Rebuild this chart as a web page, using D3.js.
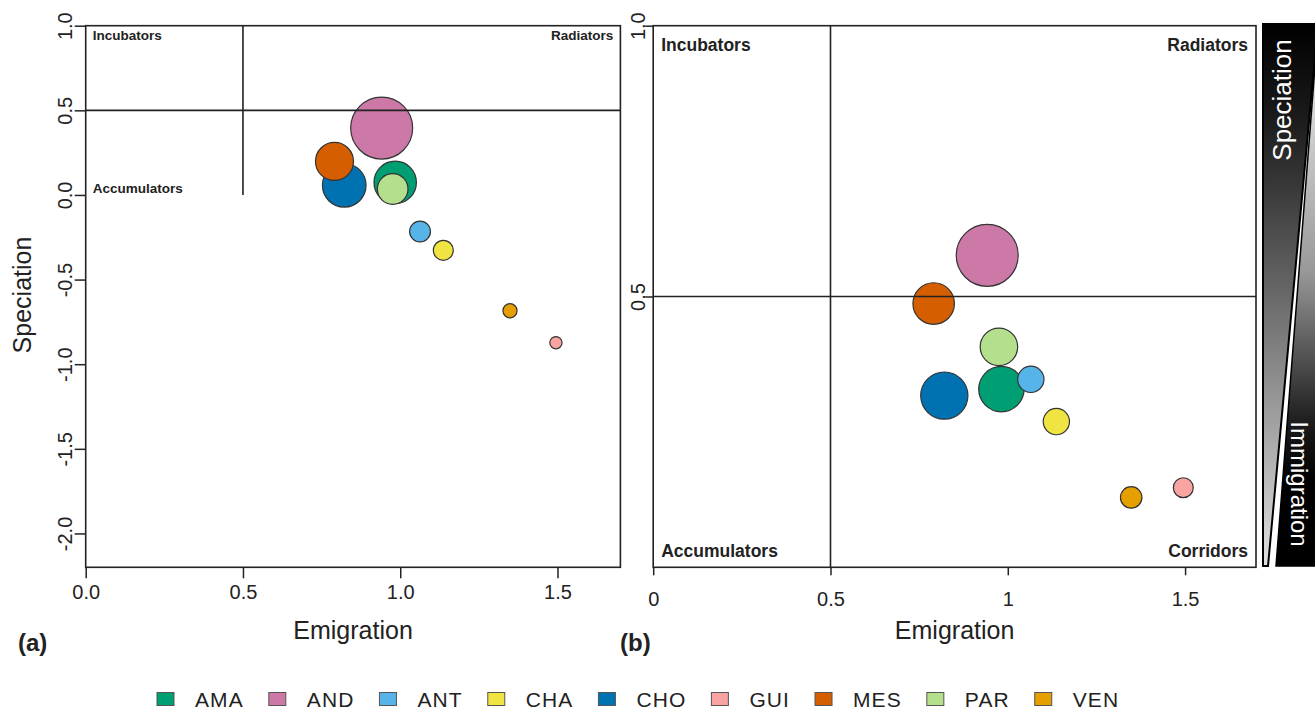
<!DOCTYPE html>
<html>
<head>
<meta charset="utf-8">
<script src="https://cdn.jsdelivr.net/npm/d3@7"></script>
<style>
  html, body { margin: 0; padding: 0; background: #fff; }
  svg { display: block; font-family: "Liberation Sans", Arial, Helvetica, sans-serif; }
</style>
</head>
<body>
<svg id="chart" width="1315" height="710"></svg>
<script>
// Bioregions and their colours
const regions = ["AMA", "AND", "ANT", "CHA", "CHO", "GUI", "MES", "PAR", "VEN"];
const regionColors = ["#009E73", "#CC79A7", "#56B4E9", "#F0E442", "#0072B2", "#F9A3A3", "#D55E00", "#B4DF8D", "#E69F00"];

// Panel (a): emigration vs speciation, bubble size = relative magnitude
const emigrationA = [0.984, 0.941, 1.063, 1.137, 0.822, 1.495, 0.791, 0.976, 1.349];
const speciationA = [0.074, 0.395, -0.216, -0.327, 0.057, -0.873, 0.198, 0.035, -0.684];
const sizeA = [46.8, 100, 11.3, 10.4, 49.5, 3.9, 37.6, 24.4, 5.2];

// Panel (b): emigration vs relative speciation
const emigrationB = [0.982, 0.942, 1.065, 1.137, 0.821, 1.495, 0.791, 0.975, 1.348];
const speciationB = [0.329, 0.576, 0.347, 0.269, 0.317, 0.147, 0.487, 0.407, 0.129];
const sizeB = [53.6, 100, 18, 18, 58, 10.3, 44.9, 36.6, 12];

// Axis ticks and labels
const xTicks = [0, 0.5, 1, 1.5];
const xTickLabelsA = ["0.0", "0.5", "1.0", "1.5"];
const xTickLabelsB = ["0", "0.5", "1", "1.5"];
const yTicksA = [-2, -1.5, -1, -0.5, 0, 0.5, 1];
const yTickLabelsA = ["-2.0", "-1.5", "-1.0", "-0.5", "0.0", "0.5", "1.0"];
const yTicksB = [0.5, 1];
const yTickLabelsB = ["0.5", "1.0"];

const svg = d3.select("#chart");
const ink = "#222";

const rScale = d3.scaleSqrt().domain([0, 100]).range([0, 31]);

function rows(xs, ys, ss) {
  return regions.map((r, i) => ({ region: r, color: regionColors[i], x: xs[i], y: ys[i], s: ss[i] }))
    .sort((a, b) => b.s - a.s);
}

function drawPanel(opt) {
  const g = svg.append("g");
  const x = d3.scaleLinear().domain(opt.xDomain).range(opt.xRange);
  const y = d3.scaleLinear().domain(opt.yDomain).range(opt.yRange);

  // bubbles
  g.append("g").selectAll("circle")
    .data(rows(opt.xs, opt.ys, opt.ss))
    .join("circle")
    .attr("cx", d => x(d.x))
    .attr("cy", d => y(d.y))
    .attr("r", d => rScale(d.s))
    .attr("fill", d => d.color)
    .attr("stroke", "#333")
    .attr("stroke-width", 1.2);

  // quadrant dividers
  g.append("line")
    .attr("x1", x(opt.xDomain[0])).attr("x2", x(opt.xDomain[1]))
    .attr("y1", y(0.5)).attr("y2", y(0.5))
    .attr("stroke", ink).attr("stroke-width", 1.6);
  g.append("line")
    .attr("x1", x(0.5)).attr("x2", x(0.5))
    .attr("y1", y(opt.yDomain[1])).attr("y2", y(opt.vLineBottom))
    .attr("stroke", ink).attr("stroke-width", 1.6);

  // frame
  g.append("rect")
    .attr("x", opt.xRange[0]).attr("y", opt.yRange[1])
    .attr("width", opt.xRange[1] - opt.xRange[0])
    .attr("height", opt.yRange[0] - opt.yRange[1])
    .attr("fill", "none").attr("stroke", ink).attr("stroke-width", 1.6);

  // x axis
  const xa = g.append("g")
    .attr("transform", `translate(0,${opt.yRange[0]})`)
    .call(d3.axisBottom(x).tickValues(xTicks).tickSize(opt.xTickSize)
      .tickFormat((d, i) => opt.xTickLabels[i]));
  xa.select(".domain").remove();
  xa.selectAll(".tick line").attr("stroke", ink).attr("stroke-width", 1.5);
  xa.selectAll(".tick text")
    .attr("y", opt.xLabelBaseline - opt.yRange[0]).attr("dy", 0)
    .attr("fill", ink).attr("font-size", 20)
    .attr("font-family", "Liberation Sans, Arial, sans-serif");

  // y axis with rotated labels
  const ya = g.append("g")
    .attr("transform", `translate(${opt.xRange[0]},0)`)
    .call(d3.axisLeft(y).tickValues(opt.yTicks).tickSize(opt.yTickSize)
      .tickFormat((d, i) => opt.yTickLabels[i]));
  ya.select(".domain").remove();
  ya.selectAll(".tick line").attr("stroke", ink).attr("stroke-width", 1.5);
  ya.selectAll(".tick text")
    .attr("x", 0).attr("y", 0).attr("dy", 0)
    .attr("text-anchor", "middle")
    .attr("transform", `translate(${opt.yLabelBaseline - opt.xRange[0]},0) rotate(-90)`)
    .attr("fill", ink).attr("font-size", 20)
    .attr("font-family", "Liberation Sans, Arial, sans-serif");

  // quadrant names
  const qx0 = opt.xRange[0] + opt.qPad, qx1 = opt.xRange[1] - opt.qPad;
  const q = g.append("g").attr("font-weight", "bold").attr("font-size", opt.qSize).attr("fill", ink);
  opt.quadrants.forEach(d => {
    q.append("text")
      .attr("x", d.right ? qx1 : qx0)
      .attr("y", d.baseline)
      .attr("text-anchor", d.right ? "end" : "start")
      .text(d.name);
  });

  // axis title
  g.append("text")
    .attr("x", (opt.xRange[0] + opt.xRange[1]) / 2).attr("y", 639)
    .attr("text-anchor", "middle").attr("font-size", 25).attr("fill", ink)
    .text("Emigration");

  // panel tag
  g.append("text")
    .attr("x", opt.tagX).attr("y", 651)
    .attr("font-size", 24).attr("font-weight", "bold").attr("fill", ink)
    .text(opt.tag);

  return g;
}

drawPanel({
  xs: emigrationA, ys: speciationA, ss: sizeA,
  xDomain: [0, 1.7], xRange: [85.7, 620.4],
  yDomain: [-2.2, 1.0], yRange: [567.3, 25.7],
  vLineBottom: 0,
  xTickSize: 11, xLabelBaseline: 599, xTickLabels: xTickLabelsA,
  yTicks: yTicksA, yTickLabels: yTickLabelsA, yTickSize: 11, yLabelBaseline: 72,
  qPad: 7, qSize: 13.5,
  quadrants: [
    { name: "Incubators", baseline: 40 },
    { name: "Radiators", baseline: 40, right: true },
    { name: "Accumulators", baseline: 192.5 }
  ],
  tag: "(a)", tagX: 18
});

drawPanel({
  xs: emigrationB, ys: speciationB, ss: sizeB,
  xDomain: [0, 1.7], xRange: [653.2, 1256],
  yDomain: [0, 1], yRange: [567.3, 25.7],
  vLineBottom: 0,
  xTickSize: 8, xLabelBaseline: 606, xTickLabels: xTickLabelsB,
  yTicks: yTicksB, yTickLabels: yTickLabelsB, yTickSize: 8, yLabelBaseline: 645,
  qPad: 8, qSize: 17.5,
  quadrants: [
    { name: "Incubators", baseline: 50.5 },
    { name: "Radiators", baseline: 50.5, right: true },
    { name: "Accumulators", baseline: 557 },
    { name: "Corridors", baseline: 557, right: true }
  ],
  tag: "(b)", tagX: 620
});

// y-axis title of panel (a)
svg.append("text")
  .attr("transform", "translate(31,295) rotate(-90)")
  .attr("text-anchor", "middle").attr("font-size", 25).attr("fill", ink)
  .text("Speciation");

// Speciation / Immigration wedge key
const defs = svg.append("defs");
const gUp = defs.append("linearGradient").attr("id", "gradUp")
  .attr("x1", 0).attr("y1", 0).attr("x2", 0).attr("y2", 1);
gUp.append("stop").attr("offset", 0).attr("stop-color", "#000");
gUp.append("stop").attr("offset", 0.18).attr("stop-color", "#1c1c1c");
gUp.append("stop").attr("offset", 1).attr("stop-color", "#e0e0e0");
const gDown = defs.append("linearGradient").attr("id", "gradDown")
  .attr("x1", 0).attr("y1", 0).attr("x2", 0).attr("y2", 1);
gDown.append("stop").attr("offset", 0).attr("stop-color", "#f5f5f5");
gDown.append("stop").attr("offset", 0.45).attr("stop-color", "#999");
gDown.append("stop").attr("offset", 0.74).attr("stop-color", "#1a1a1a");
gDown.append("stop").attr("offset", 0.84).attr("stop-color", "#000");

const line = d3.line();
svg.append("path")
  .attr("d", line([[1263, 24], [1318, 24], [1268, 566], [1263, 566]]) + "Z")
  .attr("fill", "url(#gradUp)").attr("stroke", "#000").attr("stroke-width", 2);
svg.append("path")
  .attr("d", line([[1318, 28], [1318, 566], [1276, 566]]) + "Z")
  .attr("fill", "url(#gradDown)").attr("stroke", "#000").attr("stroke-width", 1.5);
svg.append("text")
  .attr("transform", "translate(1291,100) rotate(-90)")
  .attr("text-anchor", "middle").attr("font-size", 26).attr("fill", "#fff")
  .text("Speciation");
svg.append("text")
  .attr("transform", "translate(1291,484) rotate(90)")
  .attr("text-anchor", "middle").attr("font-size", 24).attr("fill", "#fff")
  .text("Immigration");

// legend
const legend = svg.append("g").attr("font-size", 21).attr("fill", ink)
  .attr("letter-spacing", "1.1px");
let lx = 157;
regions.forEach((r, i) => {
  legend.append("rect")
    .attr("x", lx).attr("y", 692.5).attr("width", 17).attr("height", 13)
    .attr("fill", regionColors[i]).attr("stroke", "#555").attr("stroke-width", 1);
  const t = legend.append("text").attr("x", lx + 38).attr("y", 707).text(r);
  lx += 38 + t.node().getComputedTextLength() + 25;
});
</script>
</body>
</html>
